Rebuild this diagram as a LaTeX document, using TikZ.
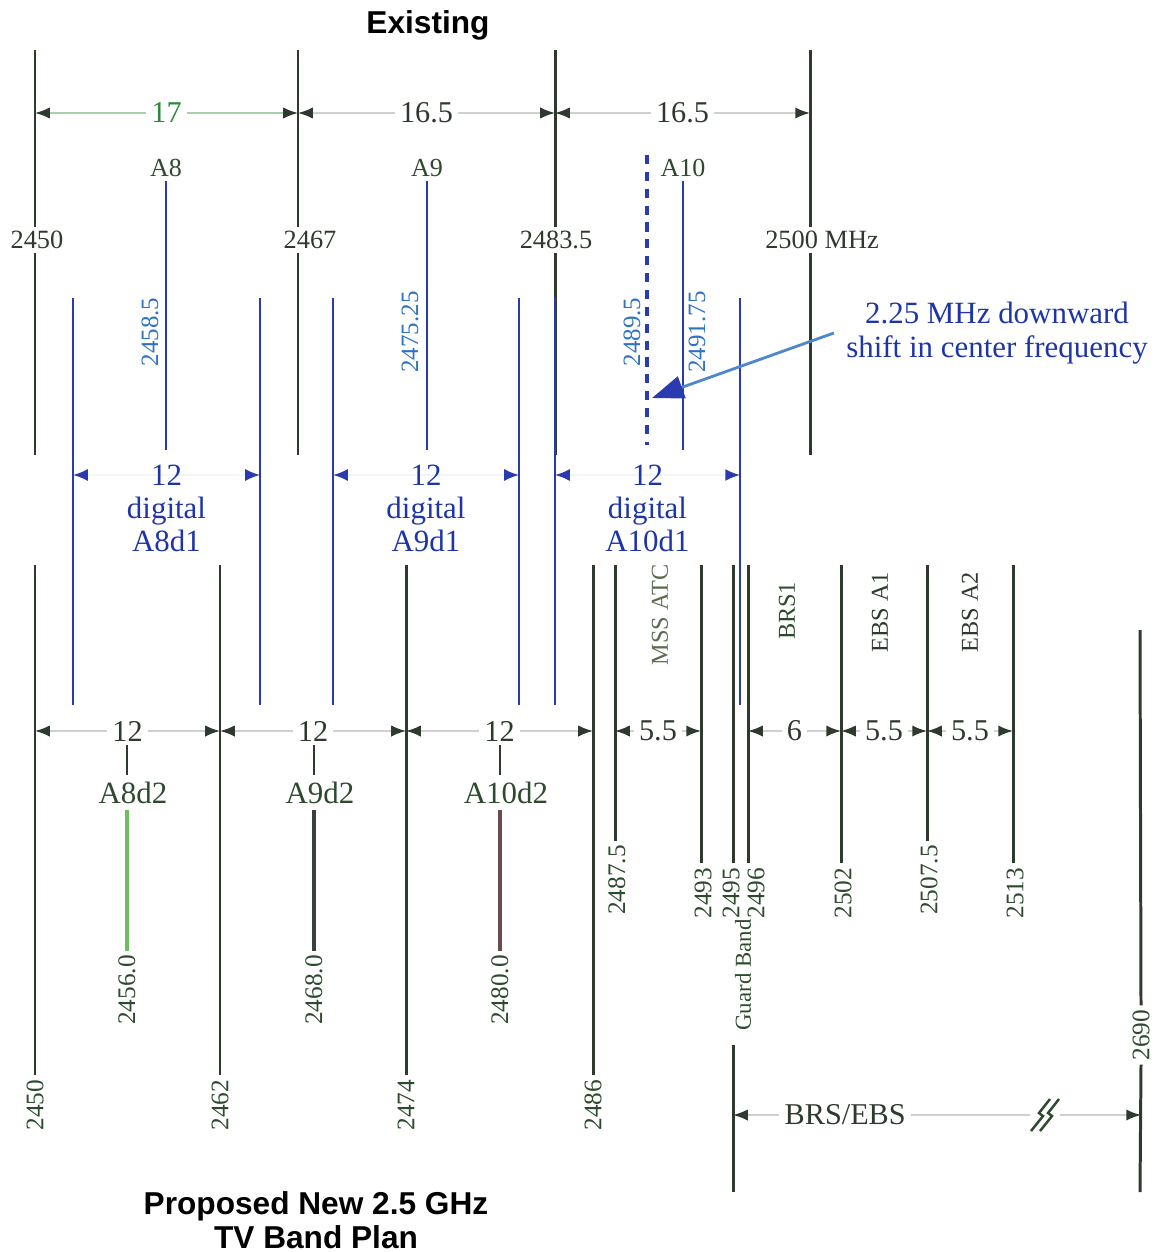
\documentclass[tikz,border=0pt]{standalone}
\usepackage{fontspec}
\setmainfont{Liberation Serif}
\setsansfont{Liberation Sans}
\usetikzlibrary{positioning,arrows.meta,calc}

\definecolor{bandline}{HTML}{2F3A2E}
\definecolor{chanblue}{HTML}{2A3BB0}
\definecolor{textblue}{HTML}{1E35A8}
\definecolor{freqblue}{HTML}{2F72C4}
\definecolor{dimshaft}{HTML}{CDD2CF}
\definecolor{lblgreen}{HTML}{2E4A2E}
\definecolor{dimgreen}{HTML}{2A8A3A}
\definecolor{mssgreen}{HTML}{5D6B4F}

\begin{document}
\begin{tikzpicture}[x=0.1mm, y=-0.1mm,
  band/.style={draw=bandline, line width=0.85pt},
  chan/.style={draw=chanblue, line width=0.75pt},
  dimarr/.style={draw=dimshaft, line width=0.45pt, {Latex[length=4.2pt,width=3.2pt,color=bandline]}-{Latex[length=4.2pt,width=3.2pt,color=bandline]}},
  digarr/.style={draw=chanblue!5, line width=0.45pt, {Latex[length=4.2pt,width=3.4pt,color=chanblue]}-{Latex[length=4.2pt,width=3.4pt,color=chanblue]}},
  shiftarr/.style={draw=freqblue!85, line width=0.8pt, -{Triangle[length=9pt,width=6.5pt,color=chanblue]}},
  dimlbl/.style={fill=white, inner sep=1.5pt, text=bandline, font=\fontsize{8.6}{10}\selectfont},
  toplbl/.style={inner sep=1pt, text=bandline, font=\fontsize{7.5}{9}\selectfont},
  chlbl/.style={inner sep=1pt, text=lblgreen, font=\fontsize{7.4}{9}\selectfont},
  vfreq/.style={inner sep=1pt, rotate=90, text=lblgreen, font=\fontsize{7.2}{9}\selectfont},
  vblue/.style={inner sep=1pt, rotate=90, text=freqblue, font=\fontsize{7.1}{9}\selectfont},
  vband/.style={inner sep=1pt, rotate=90, font=\fontsize{6.9}{8}\selectfont},
  diglbl/.style={align=center, text=textblue, font=\fontsize{8.8}{9.4}\selectfont},
  sublbl/.style={inner sep=1pt, text=lblgreen, font=\fontsize{8.8}{10}\selectfont},
  heading/.style={align=center, font=\sffamily\bfseries\fontsize{9}{9.7}\selectfont}]
  \useasboundingbox (0,0) rectangle (1156,1252);

  % existing plan
  \node[heading] (existing) at (428,25) {Existing};
  \foreach \n/\x/\lx/\f in {ea/35/37/2450, eb/298/310/2467, ec/555/556/2483.5, ed/810/822/2500 MHz} {
    \coordinate (t\n) at (\x,50);
    \node[toplbl] (\n) at (\lx,240) {\f};
    \draw[band] (t\n) -- (t\n |- \n.north);
    \draw[band] (t\n |- \n.south) -- (\x,455);
  }
  \path (35,113) coordinate (dA) (298,113) coordinate (dB) (555,113) coordinate (dC) (810,113) coordinate (dD);
  \draw[dimarr, draw=dimgreen!40] (dA) -- node[dimlbl, text=dimgreen] {17} (dB);
  \draw[dimarr] (dB) -- node[dimlbl] {16.5} (dC);
  \draw[dimarr] (dC) -- node[dimlbl] {16.5} (dD);
  \foreach \n/\x in {A8/166, A9/427, A10/683} {
    \node[chlbl] (\n) at (\x,168) {\n};
    \draw[chan] (\n.south) -- (\x,450);
  }
  \draw[chanblue, line width=0.9pt, dash pattern=on 2.6pt off 2.2pt] (647,155) -- (647,445);
  \node[vblue] (fa) at (150,332) {2458.5};
  \node[vblue] (fb) at (410,332) {2475.25};
  \node[vblue] (fc) at (632,332) {2489.5};
  \node[vblue] (fd) at (697,332) {2491.75};

  % digital channels
  \foreach \x in {73,260,333,519,555,740}
    \draw[chan] (\x,298) -- (\x,705);
  \foreach \a/\b/\n/\t in {73/260/ga/A8d1, 333/519/gb/A9d1, 555/740/gc/A10d1} {
    \draw[digarr] (\a,475) -- (\b,475);
    \node[diglbl] (\n) at ({(\a+\b)/2},508) {12\\digital\\\t};
  }

  % callout
  \node[align=center, text=textblue, font=\fontsize{8.8}{9.8}\selectfont] (shift) at (997,333) {2.25 MHz downward\\shift in center frequency};
  \coordinate (shifttip) at (652,398);
  \draw[shiftarr] (shift.west) -- (shifttip);

  % proposed plan
  \foreach \n/\x/\f in {pa/35/2450, pb/220/2462, pc/406/2474, pd/593/2486} {
    \node[vfreq] (\n) at (\x,1105) {\f};
    \draw[band] (\x,565) -- (\n.east);
  }
  \path (35,731) coordinate (bA) (220,731) coordinate (bB) (406,731) coordinate (bC) (593,731) coordinate (bD);
  \draw[dimarr] (bA) -- node[dimlbl] {12} (bB);
  \draw[dimarr] (bB) -- node[dimlbl] {12} (bC);
  \draw[dimarr] (bC) -- node[dimlbl] {12} (bD);
  \foreach \x/\n/\f/\c in {127/A8d2/2456.0/6DBF5A, 314/A9d2/2468.0/3A4040, 500/A10d2/2480.0/6A4C4C} {
    \definecolor{subclr}{HTML}{\c}
    \node[sublbl] (\n) at (\x+6,793) {\n};
    \draw[bandline, line width=0.8pt] (\x,745) -- (\x,775);
    \node[vfreq] (f\n) at (\x,990) {\f};
    \draw[draw=subclr, line width=1.1pt] (\x,810) -- (f\n.east);
  }

  % adjacent bands
  \foreach \n/\x/\lx/\y/\f in {ra/615/617/880/2487.5, rb/701/703/893/2493, rc/733/731/893/2495, rd/748/756/893/2496, re/841/843/893/2502, rf/927/929/880/2507.5, rg/1013/1015/893/2513} {
    \coordinate (t\n) at (\x,565);
    \node[vfreq] (\n) at (\lx,\y) {\f};
    \draw[band] (t\n) -- (t\n |- \n.east);
  }
  \draw[dimarr] (tra |- 0,731) -- node[dimlbl] {5.5} (trb |- 0,731);
  \draw[dimarr] (trd |- 0,731) -- node[dimlbl] {6} (tre |- 0,731);
  \draw[dimarr] (tre |- 0,731) -- node[dimlbl] {5.5} (trf |- 0,731);
  \draw[dimarr] (trf |- 0,731) -- node[dimlbl] {5.5} (trg |- 0,731);
  \node[vband, text=mssgreen] (mss) at (660,615) {MSS ATC};
  \node[vband, text=lblgreen] (brs) at (787,611) {BRS1};
  \node[vband, text=bandline] (ebsa) at (880,612) {EBS A1};
  \node[vband, text=bandline] (ebsb) at (970,612) {EBS A2};
  \node[vfreq, font=\fontsize{6.5}{8}\selectfont] (guard) at (743,975) {Guard Band};

  % BRS/EBS
  \coordinate (gl) at (733,1045);
  \draw[band] (gl) -- (733,1192);
  \node[vfreq] (rz) at (1141,1035) {2690};
  \draw[band] (1140,630) -- (rz.east);
  \draw[band] (rz.west) -- (1140,1192);
  \draw[dimarr] (gl |- 0,1115) -- node[dimlbl, pos=0.275] (brsebs) {BRS/EBS} (rz.west |- 0,1115);
  \fill[white] (1030,1098) rectangle (1060,1132);
  \draw[lblgreen, line width=0.7pt] (1031,1131) -- (1043,1116) -- (1039,1113) -- (1050,1099);
  \draw[lblgreen, line width=0.7pt] (1040,1131) -- (1052,1116) -- (1048,1113) -- (1059,1099);

  \node[heading] (plan) at (316,1220) {Proposed New 2.5 GHz\\TV Band Plan};
\end{tikzpicture}
\end{document}
